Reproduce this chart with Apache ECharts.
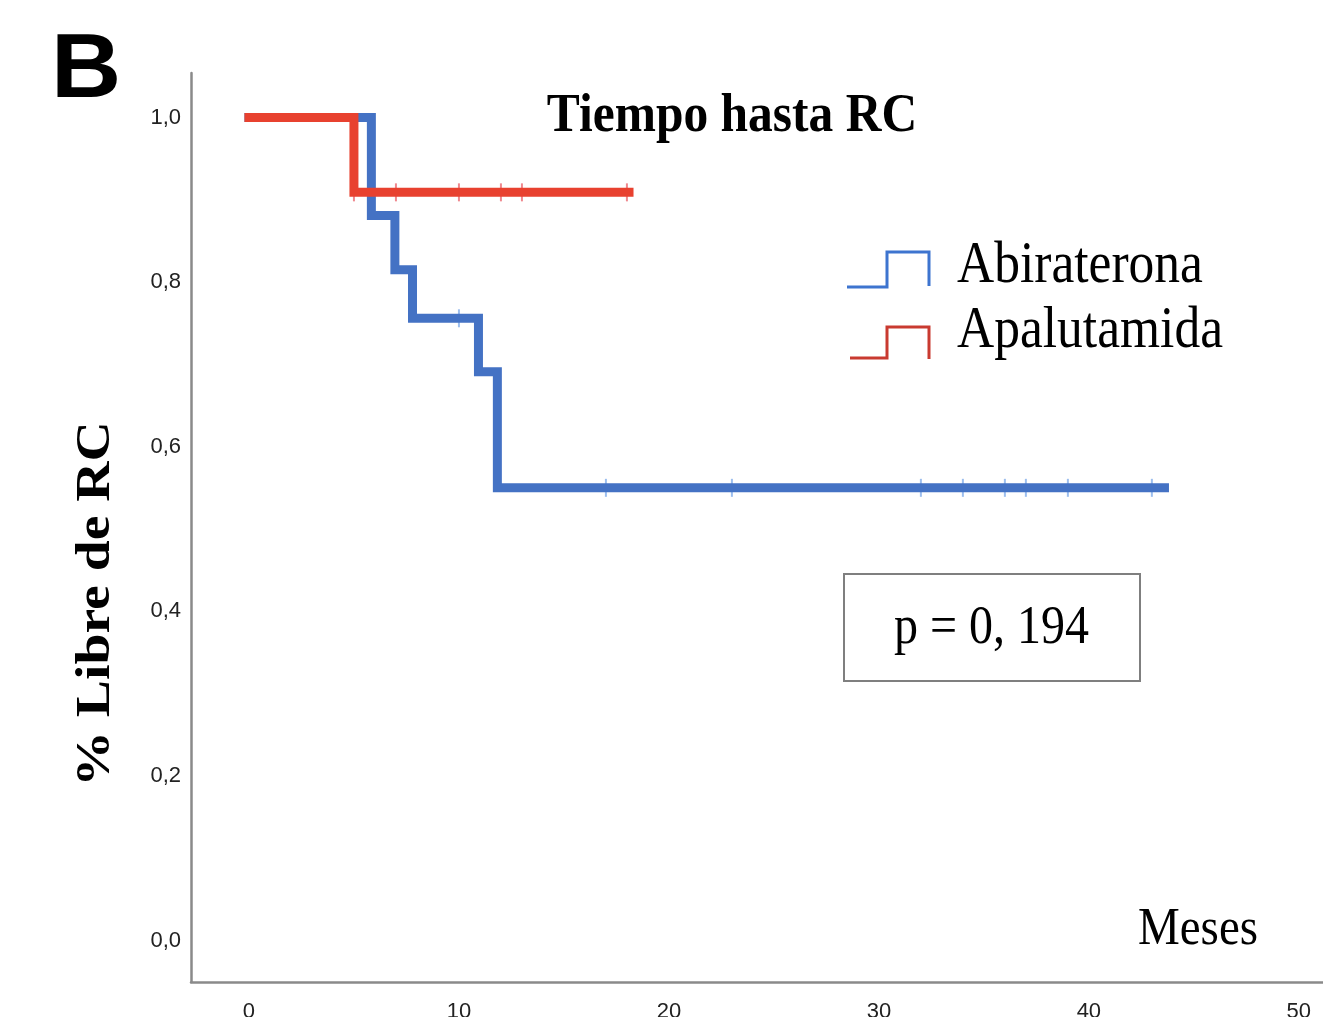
<!DOCTYPE html>
<html>
<head>
<meta charset="utf-8">
<title>Tiempo hasta RC</title>
<script src="https://cdn.jsdelivr.net/npm/echarts@6/dist/echarts.min.js"></script>
<style>
  html, body { margin: 0; padding: 0; background: #ffffff; }
  #chart { width: 1323px; height: 1017px; }
</style>
</head>
<body>
<div id="chart"></div>
<script>
// Kaplan–Meier curves: time of each step (months) and the survival after it
const abiTimes = [0, 5.83, 6.95, 7.79, 10.93, 11.83, 43.6];
const abiSurv  = [1.0, 0.881, 0.815, 0.756, 0.691, 0.550, 0.550];
const abiCensorTimes = [10, 17, 23, 32, 34, 36, 37, 39, 43];

const apaTimes = [0, 5.0, 18.1];
const apaSurv  = [1.0, 0.909, 0.909];
const apaCensorTimes = [5, 7, 10, 12, 13, 18];

const seriesNames = ['Abiraterona', 'Apalutamida'];
const xTicks = [0, 10, 20, 30, 40, 50];
const yTicks = [0, 0.2, 0.4, 0.6, 0.8, 1.0];
const pValueText = 'p = 0, 194';

const BLUE = '#4472C4';
const RED = '#E8412F';
const SERIF = '"Liberation Serif", "Times New Roman", serif';
const SANS = '"Liberation Sans", Arial, sans-serif';

// survival level of a step curve at time t
function levelAt(times, surv, t) {
  let s = surv[0];
  for (let i = 0; i < times.length; i++) if (times[i] <= t) s = surv[i];
  return s;
}
const pairs = (times, surv) => times.map((t, i) => [t, surv[i]]);
const censorPts = (cts, times, surv) => cts.map(t => [t, levelAt(times, surv, t)]);

const chart = echarts.init(document.getElementById('chart'), null, { renderer: 'canvas' });

const stretch = 1.13;
function label(text, x, y, font, align) {
  const a = align || 'center';
  return {
    type: 'text', x: x, y: y, scaleY: stretch, silent: true, z: 20,
    style: { text: text, font: font, fill: '#000', align: a, verticalAlign: 'middle',
             textAlign: a, textVerticalAlign: 'middle' }
  };
}

const option = {
  animation: false,
  backgroundColor: '#ffffff',
  grid: { left: 191, top: 73, right: 0, bottom: 35, containLabel: false, outerBoundsMode: 'none' },
  xAxis: {
    type: 'value', min: -2.76, max: 51.15,
    axisLine: { show: true, onZero: false, lineStyle: { color: '#8a8a8a', width: 2.5 } },
    axisTick: { show: false },
    splitLine: { show: false },
    axisLabel: {
      customValues: xTicks, margin: 19, color: '#222',
      fontFamily: SANS, fontSize: 22,
      formatter: v => String(Math.round(v))
    }
  },
  yAxis: {
    type: 'value', min: -0.0504, max: 1.054,
    axisLine: { show: true, onZero: false, lineStyle: { color: '#8a8a8a', width: 2.5 } },
    axisTick: { show: false },
    splitLine: { show: false },
    axisLabel: {
      customValues: yTicks, margin: 10, color: '#222',
      fontFamily: SANS, fontSize: 22,
      formatter: v => v.toFixed(1).replace('.', ',')
    }
  },
  series: [
    {
      name: seriesNames[0] + ' censurados', type: 'scatter', silent: true, z: 1,
      symbol: 'rect', symbolSize: [2, 18],
      itemStyle: { color: 'rgba(110,160,230,0.85)' },
      data: censorPts(abiCensorTimes, abiTimes, abiSurv)
    },
    {
      name: seriesNames[1] + ' censurados', type: 'scatter', silent: true, z: 1,
      symbol: 'rect', symbolSize: [2, 18],
      itemStyle: { color: 'rgba(232,80,90,0.85)' },
      data: censorPts(apaCensorTimes, apaTimes, apaSurv)
    },
    {
      name: seriesNames[0], type: 'line', step: 'end', symbol: 'none', silent: true, z: 3,
      lineStyle: { color: BLUE, width: 9, cap: 'square', join: 'miter' },
      data: pairs(abiTimes, abiSurv)
    },
    {
      name: seriesNames[1], type: 'line', step: 'end', symbol: 'none', silent: true, z: 4,
      lineStyle: { color: RED, width: 9, cap: 'square', join: 'miter' },
      data: pairs(apaTimes, apaSurv)
    }
  ],
  graphic: [
    // panel letter
    {
      type: 'text', x: 51, y: 72, scaleX: 1.08, silent: true, z: 20,
      style: { text: 'B', font: 'bold 90px ' + SANS, fill: '#000', align: 'left', verticalAlign: 'middle',
               textAlign: 'left', textVerticalAlign: 'middle' }
    },
    // chart title
    label('Tiempo hasta RC', 732, 117, 'bold 49.5px ' + SERIF),
    // y-axis title
    {
      type: 'text', x: 96.5, y: 604, rotation: Math.PI / 2, scaleX: 1.16, silent: true, z: 20,
      style: { text: '% Libre de RC', font: 'bold 48px ' + SERIF, fill: '#000', align: 'center',
               verticalAlign: 'middle', textAlign: 'center', textVerticalAlign: 'middle' }
    },
    // x-axis title
    label('Meses', 1198, 930, '47px ' + SERIF),
    // legend keys
    {
      type: 'polyline', silent: true, z: 20,
      shape: { points: [[847, 287], [887, 287], [887, 252], [929, 252], [929, 286]] },
      style: { stroke: '#3D74CF', lineWidth: 3, fill: null, lineJoin: 'miter' }
    },
    {
      type: 'polyline', silent: true, z: 20,
      shape: { points: [[850, 358], [887, 358], [887, 327], [929, 327], [929, 359]] },
      style: { stroke: '#C93A30', lineWidth: 3, fill: null, lineJoin: 'miter' }
    },
    label(seriesNames[0], 957, 266.5, '51.5px ' + SERIF, 'left'),
    label(seriesNames[1], 957, 331.5, '51.5px ' + SERIF, 'left'),
    // log-rank p-value box
    {
      type: 'rect', silent: true, z: 20,
      shape: { x: 844, y: 574, width: 296, height: 107 },
      style: { stroke: '#7f7f7f', lineWidth: 2, fill: null }
    },
    label(pValueText, 991.5, 628.5, '48px ' + SERIF)
  ]
};

chart.setOption(option);
</script>
</body>
</html>
